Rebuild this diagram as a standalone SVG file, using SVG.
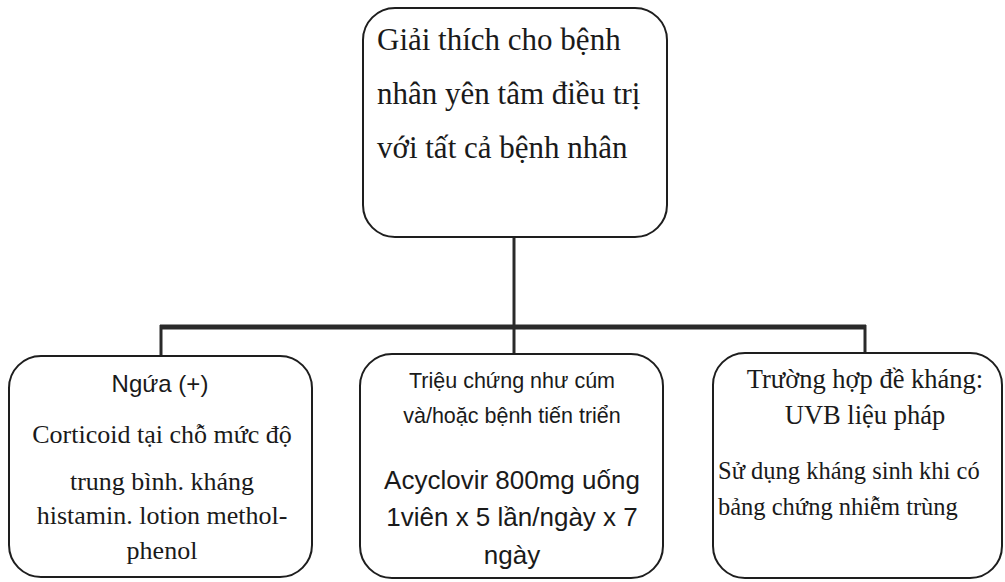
<svg xmlns="http://www.w3.org/2000/svg" width="1005" height="582" viewBox="0 0 1005 582">
<style>
.box{fill:#ffffff;stroke:#1e1e1e;stroke-width:2}
.serif{font-family:"Liberation Serif","Times New Roman",serif;fill:#1a1a1a}
.sans{font-family:"Liberation Sans",Arial,sans-serif;fill:#1a1a1a}
.line{stroke:#2a2a2a;fill:none}
</style>
<rect x="0" y="0" width="1005" height="582" fill="#ffffff"/>
<g id="connectors">
<line class="line" x1="514" y1="237" x2="514" y2="354" stroke-width="3"/>
<line class="line" x1="160" y1="327" x2="866" y2="327" stroke-width="5"/>
<line class="line" x1="161" y1="325" x2="161" y2="356" stroke-width="3"/>
<line class="line" x1="865" y1="325" x2="865" y2="354" stroke-width="3"/>
</g>
<g id="node-top">
<rect class="box" x="363" y="8" width="304" height="229" rx="32" ry="32"/>
<text class="serif" font-size="31" x="377" y="50">Giải thích cho bệnh</text>
<text class="serif" font-size="31" x="377" y="104">nhân yên tâm điều trị</text>
<text class="serif" font-size="31" x="377" y="158">với tất cả bệnh nhân</text>
</g>
<g id="node-left">
<rect class="box" x="9" y="356" width="303" height="221" rx="32" ry="32"/>
<text class="sans" font-size="24" x="160" y="392" text-anchor="middle">Ngứa (+)</text>
<text class="serif" font-size="26" x="162" y="443" text-anchor="middle">Corticoid tại chỗ mức độ</text>
<text class="serif" font-size="26" x="162" y="490" text-anchor="middle">trung bình. kháng</text>
<text class="serif" font-size="26" x="162" y="524" text-anchor="middle">histamin. lotion methol-</text>
<text class="serif" font-size="26" x="162" y="559" text-anchor="middle">phenol</text>
</g>
<g id="node-middle">
<rect class="box" x="360" y="354" width="303" height="224" rx="32" ry="32"/>
<text class="sans" font-size="21.5" x="512" y="388" text-anchor="middle">Triệu chứng như cúm</text>
<text class="sans" font-size="21.5" x="512" y="423" text-anchor="middle">và/hoặc bệnh tiến triển</text>
<text class="sans" font-size="26" x="512" y="489" text-anchor="middle">Acyclovir 800mg uống</text>
<text class="sans" font-size="26" x="512" y="526" text-anchor="middle">1viên x 5 lần/ngày x 7</text>
<text class="sans" font-size="26" x="512" y="564" text-anchor="middle">ngày</text>
</g>
<g id="node-right">
<rect class="box" x="713" y="353" width="289" height="225" rx="32" ry="32"/>
<text class="serif" font-size="26.5" x="865" y="388" text-anchor="middle">Trường hợp đề kháng:</text>
<text class="serif" font-size="26.5" x="865" y="424" text-anchor="middle">UVB liệu pháp</text>
<text class="serif" font-size="24.5" x="718" y="479">Sử dụng kháng sinh khi có</text>
<text class="serif" font-size="24.5" x="718" y="515">bảng chứng nhiễm trùng</text>
</g>
</svg>
